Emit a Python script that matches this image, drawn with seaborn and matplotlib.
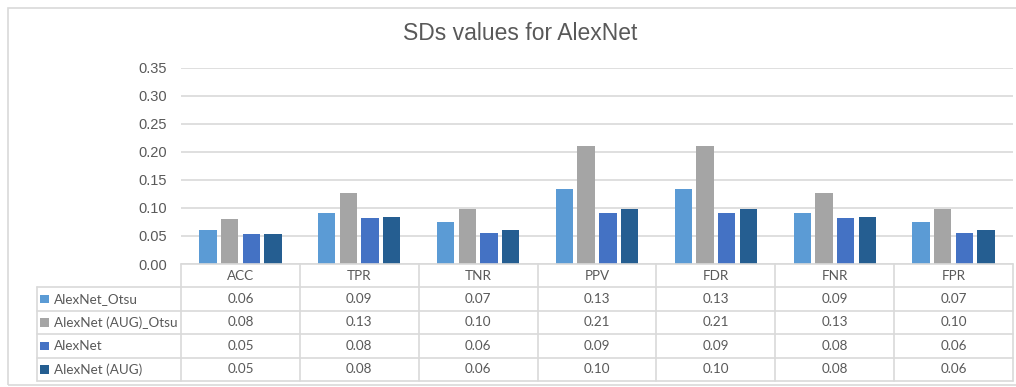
import matplotlib
matplotlib.use("Agg")
import matplotlib.pyplot as plt
import seaborn as sns
import pandas as pd
from matplotlib.patches import Rectangle

# Data
metrics = ["ACC", "TPR", "TNR", "PPV", "FDR", "FNR", "FPR"]
series_names = ["AlexNet_Otsu", "AlexNet (AUG)_Otsu", "AlexNet", "AlexNet (AUG)"]
alexnet_otsu = [0.060, 0.090, 0.074, 0.134, 0.134, 0.090, 0.074]
alexnet_aug_otsu = [0.080, 0.126, 0.098, 0.210, 0.210, 0.126, 0.098]
alexnet = [0.054, 0.082, 0.056, 0.090, 0.090, 0.082, 0.056]
alexnet_aug = [0.054, 0.083, 0.061, 0.098, 0.098, 0.083, 0.061]
y_ticks = [0.00, 0.05, 0.10, 0.15, 0.20, 0.25, 0.30, 0.35]
title = "SDs values for AlexNet"

colors = ["#5B9BD5", "#A5A5A5", "#4472C4", "#255E91"]
text_color = "#595959"
line_color = "#D9D9D9"

series_values = [alexnet_otsu, alexnet_aug_otsu, alexnet, alexnet_aug]
df = pd.DataFrame(
    [(m, s, v) for s, vals in zip(series_names, series_values) for m, v in zip(metrics, vals)],
    columns=["metric", "series", "value"],
)

sns.set_theme(style="white")
plt.rcParams["font.family"] = ["Liberation Sans", "DejaVu Sans"]

W, H = 1016, 387
fig = plt.figure(figsize=(W / 100, H / 100), dpi=100)
fig.patch.set_facecolor("white")


def fx(px):
    return px / W


def fy(py):
    return 1 - py / H


# Chart border
fig.patches.append(Rectangle((fx(8), fy(385)), fx(1030) - fx(8), fy(8) - fy(385),
                             transform=fig.transFigure, fill=False,
                             edgecolor=line_color, lw=1.2, zorder=0))

# Plot area geometry
left_px, right_px, top_px, base_px = 181, 1013, 67.5, 264
ax = fig.add_axes([fx(left_px), fy(base_px), fx(right_px) - fx(left_px), fy(top_px) - fy(base_px)])
sns.barplot(data=df, x="metric", y="value", hue="series", order=metrics,
            hue_order=series_names, palette=colors, width=0.73, gap=0.2,
            saturation=1, errorbar=None, legend=False, ax=ax, zorder=3,
            linewidth=0)
ax.set_xlim(-0.5, len(metrics) - 0.5)
ax.set_ylim(0, 0.35)
ax.set_yticks(y_ticks)
ax.set_yticklabels([f"{t:.2f}" for t in y_ticks], fontsize=10.5, color=text_color)
ax.set_xticks([])
ax.set_xlabel("")
ax.set_ylabel("")
ax.tick_params(axis="y", length=0, pad=10)
ax.yaxis.grid(True, color=line_color, lw=1.2, zorder=0)
ax.set_axisbelow(True)
sns.despine(ax=ax, left=True, bottom=True, top=True, right=True)

fig.text(fx(520), fy(34), title, ha="center", va="center", fontsize=16.5, color=text_color)

# Data table below the plot area
tab_left_px, tab_bot_px = 37, 381
cw = (right_px - left_px) / len(metrics)
tx0 = -0.5 - (left_px - tab_left_px) / cw
tax = fig.add_axes([fx(tab_left_px), fy(tab_bot_px), fx(right_px) - fx(tab_left_px), fy(base_px) - fy(tab_bot_px)])
n_rows = len(series_names) + 1
tax.set_xlim(tx0, len(metrics) - 0.5)
tax.set_ylim(n_rows, 0)
tax.axis("off")

lkw = dict(color=line_color, lw=1.2, clip_on=False)
# horizontal rules
tax.plot([-0.5, len(metrics) - 0.5], [0, 0], **lkw)
for r in range(1, n_rows + 1):
    tax.plot([tx0, len(metrics) - 0.5], [r, r], **lkw)
# vertical rules
tax.plot([tx0, tx0], [1, n_rows], **lkw)
for c in range(len(metrics) + 1):
    tax.plot([c - 0.5, c - 0.5], [0, n_rows], **lkw)

tfont = ["Lato", "DejaVu Sans"]
tsize = 9.7
for c, m in enumerate(metrics):
    tax.text(c, 0.5, m, ha="center", va="center", fontsize=tsize, color=text_color, family=tfont)

key_w = 9 / cw
for r, (name, vals, col) in enumerate(zip(series_names, series_values, colors), start=1):
    tax.add_patch(Rectangle((tx0 + 3 / cw, r + 0.5 - 0.18), key_w, 0.36,
                            facecolor=col, edgecolor="none", clip_on=False))
    tax.text(tx0 + 17 / cw, r + 0.5, name, ha="left", va="center",
             fontsize=tsize, color=text_color, family=tfont)
    for c, v in enumerate(vals):
        tax.text(c, r + 0.5, f"{v:.2f}", ha="center", va="center",
                 fontsize=tsize, color=text_color, family=tfont)

fig.savefig("out.png", dpi=100, facecolor="white")
